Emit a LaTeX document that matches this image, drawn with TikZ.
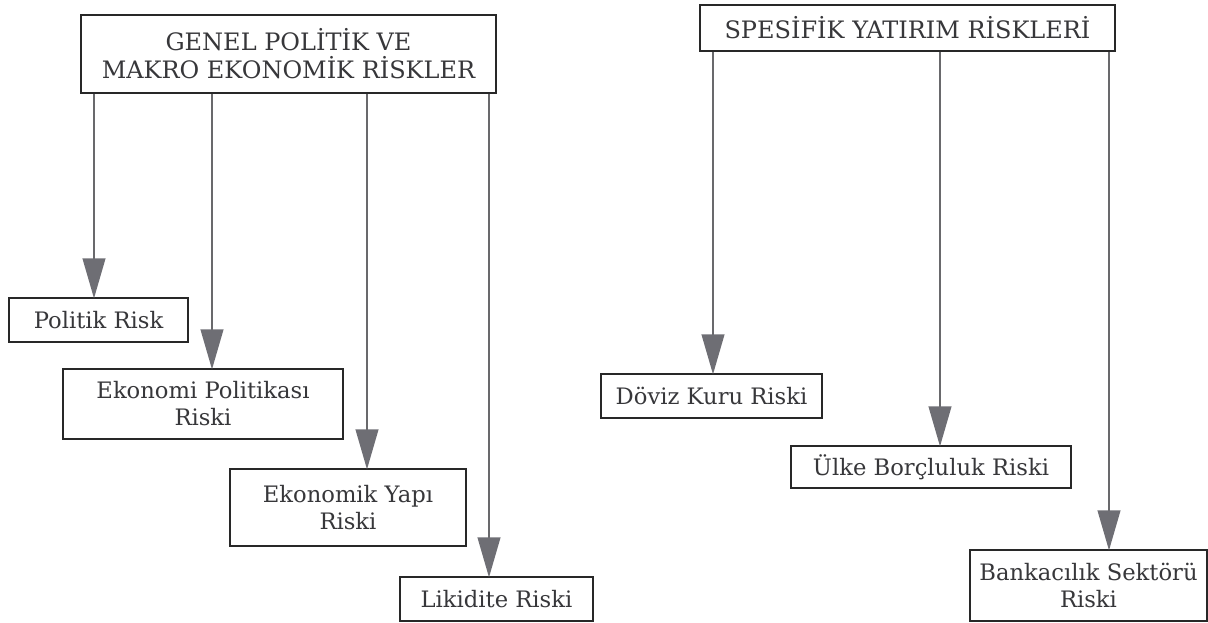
\documentclass[tikz,border=0pt]{standalone}
\usepackage{fontspec}
\setmainfont{DejaVu Serif}
\usetikzlibrary{arrows.meta}
\definecolor{txtc}{RGB}{55,55,58}
\definecolor{linec}{RGB}{105,105,108}
\definecolor{headc}{RGB}{110,110,116}
\definecolor{boxc}{RGB}{40,40,40}
\tikzset{
  box/.style={draw=boxc, line width=1.4pt, inner sep=0pt, align=center, text=txtc,
    font=\fontsize{17}{20.25}\selectfont},
  capbox/.style={box, font=\fontsize{18}{21}\selectfont},
  arr/.style={draw=linec, line width=1.5pt,
    -{Triangle[width=17pt,length=30pt,fill=headc,color=headc]}, shorten >=-1pt}
}
\begin{document}
\begin{tikzpicture}[x=0.75pt,y=-0.75pt]
\useasboundingbox (0,0) rectangle (1208,623);
% left group
\node[capbox, minimum width=311.25pt, minimum height=58.5pt] (top1) at (288.5,54)
  {GENEL POLİTİK VE\\MAKRO EKONOMİK RİSKLER};
\node[box, minimum width=134.25pt, minimum height=33pt] (pol) at (98.5,320) {Politik Risk};
\node[box, minimum width=210pt, minimum height=52.5pt] (eko) at (203,404) {Ekonomi Politikası\\Riski};
\node[box, minimum width=177pt, minimum height=57.75pt] (yapi) at (348,507.5) {Ekonomik Yapı\\Riski};
\node[box, minimum width=144.75pt, minimum height=33pt] (lik) at (496.5,599) {Likidite Riski};
% right group
\node[capbox, minimum width=311.25pt, minimum height=34.5pt] (top2) at (907.5,28) {SPESİFİK YATIRIM RİSKLERİ};
\node[box, minimum width=165.75pt, minimum height=33pt] (doviz) at (711.5,396) {Döviz Kuru Riski};
\node[box, minimum width=210pt, minimum height=31.5pt] (ulke) at (931,467) {Ülke Borçluluk Riski};
\node[box, minimum width=177.75pt, minimum height=53.25pt] (bank) at (1088.5,585.5) {Bankacılık Sektörü\\Riski};
% arrow columns
\coordinate (c1) at (94,0);
\coordinate (c2) at (212,0);
\coordinate (c3) at (367,0);
\coordinate (c4) at (489,0);
\coordinate (d1) at (713,0);
\coordinate (d2) at (940,0);
\coordinate (d3) at (1109,0);
\draw[arr] (top1.south -| c1) -- (pol.north -| c1);
\draw[arr] (top1.south -| c2) -- (eko.north -| c2);
\draw[arr] (top1.south -| c3) -- (yapi.north -| c3);
\draw[arr] (top1.south -| c4) -- (lik.north -| c4);
\draw[arr] (top2.south -| d1) -- (doviz.north -| d1);
\draw[arr] (top2.south -| d2) -- (ulke.north -| d2);
\draw[arr] (top2.south -| d3) -- (bank.north -| d3);
\end{tikzpicture}
\end{document}
